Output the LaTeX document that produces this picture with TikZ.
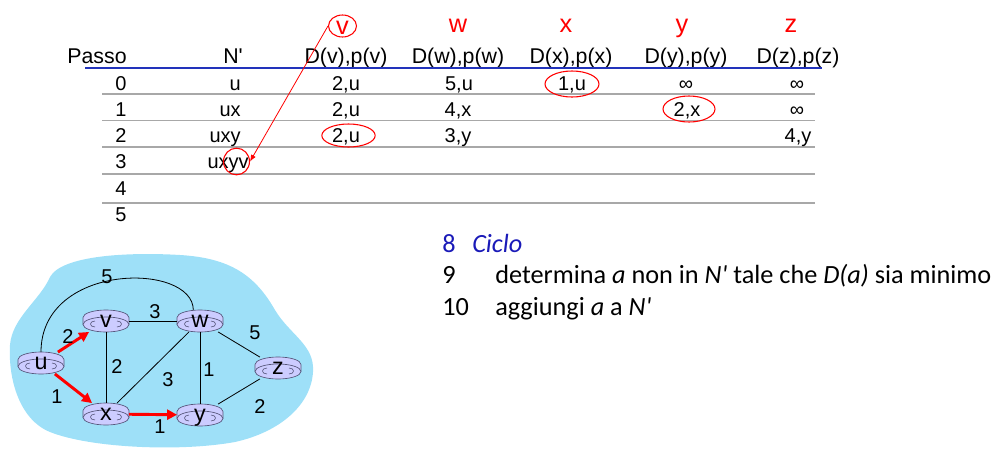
\documentclass[tikz,border=0pt]{standalone}
\usepackage{fontspec}
\setmainfont{Liberation Sans}
\newfontfamily\calibri{Carlito}
\usetikzlibrary{arrows.meta,shapes.geometric,backgrounds}
\definecolor{cloudblue}{HTML}{9EE0F8}
\definecolor{routerfill}{HTML}{CCCCFF}
\definecolor{routeredge}{HTML}{55557A}
\definecolor{ruleblue}{HTML}{2233BB}
\definecolor{codeblue}{HTML}{1A1AB8}
\definecolor{rowgrey}{HTML}{A8A8A8}
\tikzset{
  router/.style={rectangle, minimum width=34pt, minimum height=16pt, inner sep=0pt,
    text height=10pt, text depth=0pt, font=\fontsize{17.5}{17.5}\selectfont},
  pics/routericon/.style={code={
    \fill [routerfill] (-23,-3.5) -- (-23,3.5) arc [start angle=180, end angle=0, x radius=23, y radius=7.5] -- (23,-3.5) -- cycle ;
    \draw [routeredge, line width=0.5pt] (-23,-3.5) -- (-23,3.5) arc [start angle=180, end angle=0, x radius=23, y radius=7.5] -- (23,-3.5) ;
    \filldraw [fill=routerfill, draw=routeredge, line width=0.5pt] (0,-3.5) ellipse [x radius=23, y radius=7.5] ;
    \draw [routeredge, line width=0.45pt] (-11,-6) .. controls (-17,-6) and (-17,0) .. (-11,0) ;
    \draw [routeredge, line width=0.45pt] (11,-6) .. controls (17,-6) and (17,0) .. (11,0) ;
  }},
  link/.style={line width=0.6pt},
  hoplink/.style={red, line width=2.2pt, -{Triangle[length=7.5pt,width=7.5pt]}},
  cost/.style={inner sep=0pt, font=\fontsize{15}{15}\selectfont},
  cell/.style={anchor=base, inner sep=0pt, font=\fontsize{15}{15}\selectfont},
  head/.style={anchor=base, inner sep=0pt, font=\fontsize{16}{16}\selectfont},
  dest/.style={anchor=base, inner sep=0pt, text=red, font=\fontsize{19}{19}\selectfont},
  pick/.style={ellipse, draw=red, line width=0.8pt, inner sep=0pt},
  code/.style={anchor=base west, inner sep=0pt, font=\calibri\fontsize{19.7}{19.7}\selectfont}
}
\begin{document}
\begin{tikzpicture}[x=0.75pt,y=0.75pt,yscale=-1,xscale=1]
\useasboundingbox (0,0) rectangle (997,454);

%Text: destinations
\node[dest] (tv) at (342.5,34) {v};
\node[dest] (tw) at (458,32) {w};
\node[dest] (tx) at (566,32) {x};
\node[dest] (ty) at (682,32) {y};
\node[dest] (tz) at (791,32) {z};
%Text: header
\node[head] (hstep) at (97,63) {Passo};
\node[head] (hset) at (233,63) {N\textquotesingle};
\node[head] (hv) at (346,63) {D(v),p(v)};
\node[head] (hw) at (458,63) {D(w),p(w)};
\node[head] (hx) at (571,63) {D(x),p(x)};
\node[head] (hy) at (686,63) {D(y),p(y)};
\node[head] (hz) at (798,63) {D(z),p(z)};
%Straight Lines: header rule
\draw [ruleblue, line width=1.5pt] (85,68) -- (822,68) ;
%Straight Lines: row rules
\draw [rowgrey, line width=0.8pt] (102,94) -- (815,94) ;
\draw [rowgrey, line width=0.8pt] (102,120.5) -- (815,120.5) ;
\draw [rowgrey, line width=0.8pt] (102,147) -- (815,147) ;
\draw [rowgrey, line width=0.8pt] (102,174) -- (815,174) ;
\draw [rowgrey, line width=0.8pt] (102,203) -- (815,203) ;
%Text: step numbers
\node[cell] (s0) at (121,90) {0};
\node[cell] (s1) at (121,116) {1};
\node[cell] (s2) at (121,142) {2};
\node[cell] (s3) at (121,168.5) {3};
\node[cell] (s4) at (121,195) {4};
\node[cell] (s5) at (121,221.5) {5};
%Text: set N'
\node[cell, anchor=base east] (n0) at (241,90) {u};
\node[cell, anchor=base east] (n1) at (241,116) {ux};
\node[cell, anchor=base east] (n2) at (241,142) {uxy};
\node[cell, anchor=base east] (n3) at (249,168.5) {uxyv};
%Text: D(v),p(v)
\node[cell] (v0) at (346,90) {2,u};
\node[cell] (v1) at (346,116) {2,u};
\node[cell] (v2) at (346,142) {2,u};
%Text: D(w),p(w)
\node[cell] (w0) at (459,90) {5,u};
\node[cell] (w1) at (458,116) {4,x};
\node[cell] (w2) at (458,142) {3,y};
%Text: D(x),p(x)
\node[cell] (x0) at (572,90) {1,u};
%Text: D(y),p(y)
\node[cell] (y0) at (686,90) {∞};
\node[cell] (y1) at (687,116) {2,x};
%Text: D(z),p(z)
\node[cell] (z0) at (797,90) {∞};
\node[cell] (z1) at (797,116) {∞};
\node[cell] (z2) at (798,142) {4,y};
%Shape: Ellipses round the chosen entries
\node[pick, minimum width=21pt, minimum height=16.5pt] (vtop) at (342.5,26) {};
\node[pick, minimum width=40.5pt, minimum height=19.5pt] (px0) at (572,84) {};
\node[pick, minimum width=39pt, minimum height=19.5pt] (py1) at (689,109) {};
\node[pick, minimum width=40pt, minimum height=17.25pt] (pv2) at (348.5,135.5) {};
\node[pick, minimum width=19.5pt, minimum height=20pt] (vnew) at (236.5,161.5) {};
%Straight Lines: v enters N'
\draw [red, line width=0.6pt, -{Latex[length=5pt,width=4pt]}] (vtop.west) -- (vnew.east) ;

%Shape: Routers (labels)
\node[router] (u) at (41,363) {u};
\node[router] (v) at (106,321) {v};
\node[router] (w) at (200,321) {w};
\node[router] (z) at (278,368) {z};
\node[router] (x) at (106,414) {x};
\node[router] (y) at (200,415) {y};
\begin{scope}[on background layer]
%Shape: Cloud
\draw [draw=none, fill=cloudblue] (50,277) .. controls (62,255) and (130,252) .. (180,255) .. controls (230,258) and (255,275) .. (275,310) .. controls (290,335) and (315,345) .. (313,372) .. controls (311,405) and (280,432) .. (235,442) .. controls (180,452) and (90,448) .. (50,432) .. controls (20,420) and (8,380) .. (10,345) .. controls (12,318) and (40,300) .. (50,277) -- cycle ;
%Shape: Router icons
\foreach \r in {u,v,w,x,y,z} \pic at (\r) {routericon};
\end{scope}
%Curve Lines: u to w
\draw [link] (u.north) .. controls (41,262) and (193,262) .. ([xshift=-5pt]w.north) ;
%Straight Lines: links
\draw [link] (v) -- (w) ;
\draw [link] (v) -- (x) ;
\draw [link] (w) -- (x) ;
\draw [link] (w) -- (y) ;
\draw [link] (w) -- (z) ;
\draw [link] (y) -- (z) ;
%Straight Lines: shortest paths so far
\draw [hoplink] (u) -- (v) ;
\draw [hoplink] (u) -- (x) ;
\draw [hoplink] (x) -- (y) ;
%Text: costs
\node[cost] (cuw) at (107,277) {5};
\node[cost] (cvw) at (155,312) {3};
\node[cost] (cuv) at (68,337) {2};
\node[cost] (cvx) at (117,367) {2};
\node[cost] (cwz) at (255,333) {5};
\node[cost] (cwy) at (209,370) {1};
\node[cost] (cwx) at (168,380) {3};
\node[cost] (cux) at (57,397) {1};
\node[cost] (cxy) at (160,427) {1};
\node[cost] (cyz) at (260,407) {2};

%Text: loop lines
\node[code, text=codeblue] (l8) at (442,252) {8};
\node[code, text=codeblue] (t8) at (472,252) {\itshape Ciclo};
\node[code] (l9) at (442,283) {9};
\node[code] (t9) at (495,283) {determina \textit{a} non in \textit{N\textquotesingle} tale che \textit{D(a)} sia minimo};
\node[code] (l10) at (442,315) {10};
\node[code] (t10) at (495,315) {aggiungi \textit{a} a \textit{N\textquotesingle}};

\end{tikzpicture}
\end{document}
